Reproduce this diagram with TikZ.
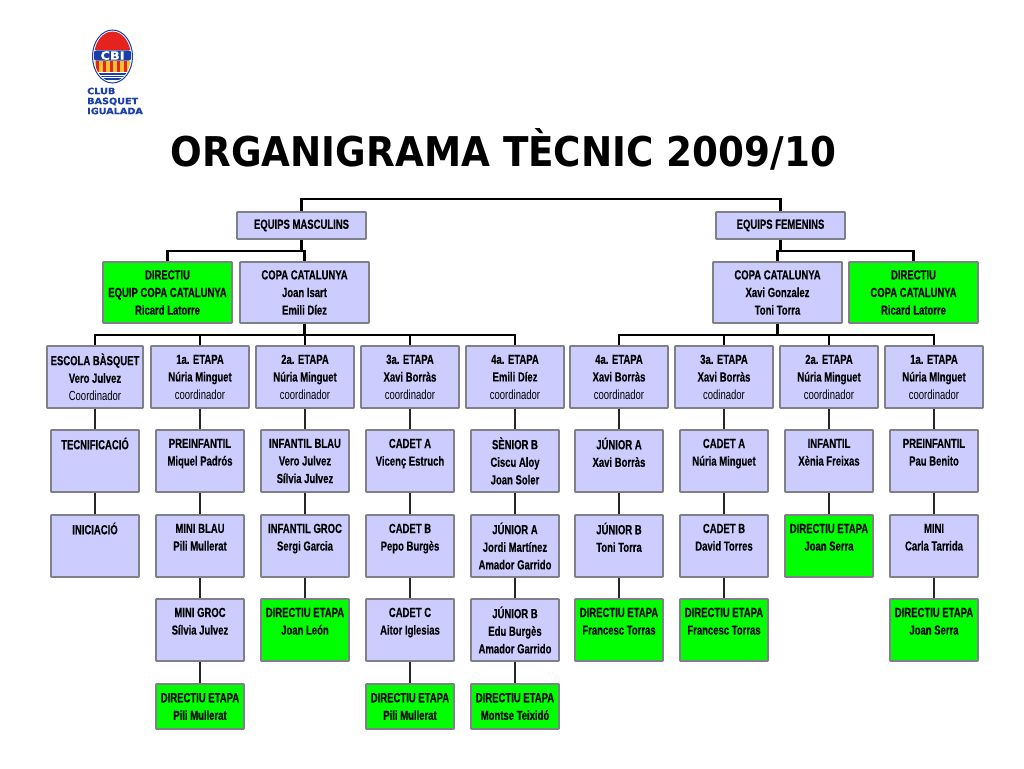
\documentclass[tikz,border=0pt]{standalone}
\usepackage{fontspec}
\setmainfont[FakeStretch=0.72,BoldFeatures={FakeBold=0.25}]{Liberation Sans}
\newfontfamily\titlefont[FakeStretch=0.91]{DejaVu Sans}
\newfontfamily\logofont[FakeStretch=1.11,BoldFeatures={FakeBold=0.6}]{DejaVu Sans}
\usetikzlibrary{calc}
\definecolor{boxblue}{HTML}{CCCCFF}
\definecolor{boxgreen}{HTML}{00FF00}
\definecolor{boxline}{HTML}{808088}
\definecolor{logoblue}{HTML}{1A3FA8}
\definecolor{logored}{HTML}{E4231F}
\definecolor{logoyellow}{HTML}{F2C230}
\tikzset{
  card/.style={draw=boxline,line width=1.6pt,rounded corners=0.6pt,inner sep=0pt,align=center,
    font=\fontsize{13.2}{17.6}\selectfont\bfseries,text=black},
  blue/.style={card,fill=boxblue},
  lime/.style={card,fill=boxgreen},
  wire/.style={draw=black!85,line width=1.7pt},
  bar/.style={draw=black,line width=2.2pt}
}
\newcommand{\card}[7]{\node[#1,minimum width=#5-#3,minimum height=#6-#4] (#2) at ({(#3+#5)/2},{(#4+#6)/2}) {#7};}
\newcommand{\thin}[1]{{\normalfont #1}}
\begin{document}
\begin{tikzpicture}[x=1pt,y=-1pt]
\useasboundingbox (0,0) rectangle (1024,768);
\fill[white] (0,0) rectangle (1024,768);
% logo
\fill[white] (112.5,56.5) ellipse (20 and 26.5);
\begin{scope}
\clip (112.5,56.5) ellipse (18.4 and 25);
\fill[logored] (92,30) rectangle (133,50);
\fill[logoyellow] (92,61) rectangle (133,72);
\foreach \sx in {95.5,102.5,109.5,116.5,123.5} \fill[logored] (\sx,61) rectangle ++(3.8,11);
\foreach \sy in {74,76.5,79} \draw[logoblue,line width=1.1pt] (92,\sy) -- (133,\sy);
\end{scope}
\fill[logoblue,rounded corners=2pt] (94,50.5) rectangle (131,60.5);
\draw[logoblue,line width=1pt] (112.5,56.5) ellipse (20 and 26.5);
\node[inner sep=0pt,text=white,font=\logofont\bfseries\fontsize{11.5}{12}\selectfont] (cbi) at (112.5,55.5) {CBI};
\node[inner sep=0pt,anchor=west,align=left,text=logoblue,font=\logofont\bfseries\fontsize{8.7}{10}\selectfont] (clubname) at (87,101) {CLUB\\BASQUET\\IGUALADA};
% title
\node[inner sep=0pt,anchor=base,font=\titlefont\bfseries\fontsize{41}{44}\selectfont] (title) at (503.5,166) {ORGANIGRAMA TÈCNIC 2009/10};
% header
\coordinate (root) at (540,199);
\card{blue}{em}{237}{212}{366}{239}{EQUIPS MASCULINS}
\card{blue}{ef}{716}{212}{845}{239}{EQUIPS FEMENINS}
\card{lime}{dm}{103}{262}{232}{323}{DIRECTIU\\EQUIP COPA CATALUNYA\\Ricard Latorre}
\card{blue}{cm}{240}{262}{369}{323}{COPA CATALUNYA\\Joan Isart\\Emili Díez}
\card{blue}{cf}{713}{262}{842}{323}{COPA CATALUNYA\\Xavi Gonzalez\\Toni Torra}
\card{lime}{df}{849}{262}{978}{323}{DIRECTIU\\COPA CATALUNYA\\Ricard Latorre}
% row 3
\card{blue}{a0}{47}{346}{143}{408}{ESCOLA BÀSQUET\\Vero Julvez\\\thin{Coordinador}}
\card{blue}{a1}{151}{346}{249}{408}{1a. ETAPA\\Núria Minguet\\\thin{coordinador}}
\card{blue}{a2}{256}{346}{354}{408}{2a. ETAPA\\Núria Minguet\\\thin{coordinador}}
\card{blue}{a3}{361}{346}{459}{408}{3a. ETAPA\\Xavi Borràs\\\thin{coordinador}}
\card{blue}{a4}{466}{346}{564}{408}{4a. ETAPA\\Emili Díez\\\thin{coordinador}}
\card{blue}{a5}{570}{346}{668}{408}{4a. ETAPA\\Xavi Borràs\\\thin{coordinador}}
\card{blue}{a6}{675}{346}{773}{408}{3a. ETAPA\\Xavi Borràs\\\thin{codinador}}
\card{blue}{a7}{780}{346}{878}{408}{2a. ETAPA\\Núria Minguet\\\thin{coordinador}}
\card{blue}{a8}{885}{346}{983}{408}{1a. ETAPA\\Núria MInguet\\\thin{coordinador}}
% row 4
\card{blue}{b0}{51}{430}{139}{492}{TECNIFICACIÓ\\~\\~}
\card{blue}{b1}{156}{430}{244}{492}{PREINFANTIL\\Miquel Padrós\\~}
\card{blue}{b2}{261}{430}{349}{492}{INFANTIL BLAU\\Vero Julvez\\Sílvia Julvez}
\card{blue}{b3}{366}{430}{454}{492}{CADET A\\Vicenç Estruch\\~}
\card{blue}{b4}{471}{430}{559}{492}{SÈNIOR B\\Ciscu Aloy\\Joan Soler}
\card{blue}{b5}{575}{430}{663}{492}{JÚNIOR A\\Xavi Borràs\\~}
\card{blue}{b6}{680}{430}{768}{492}{CADET A\\Núria Minguet\\~}
\card{blue}{b7}{785}{430}{873}{492}{INFANTIL\\Xènia Freixas\\~}
\card{blue}{b8}{890}{430}{978}{492}{PREINFANTIL\\Pau Benito\\~}
% row 5
\card{blue}{c0}{51}{515}{139}{577}{INICIACIÓ\\~\\~}
\card{blue}{c1}{156}{515}{244}{577}{MINI BLAU\\Pili Mullerat\\~}
\card{blue}{c2}{261}{515}{349}{577}{INFANTIL GROC\\Sergi Garcia\\~}
\card{blue}{c3}{366}{515}{454}{577}{CADET B\\Pepo Burgès\\~}
\card{blue}{c4}{471}{515}{559}{577}{JÚNIOR A\\Jordi Martínez\\Amador Garrido}
\card{blue}{c5}{575}{515}{663}{577}{JÚNIOR B\\Toni Torra\\~}
\card{blue}{c6}{680}{515}{768}{577}{CADET B\\David Torres\\~}
\card{lime}{c7}{785}{515}{873}{577}{DIRECTIU ETAPA\\Joan Serra\\~}
\card{blue}{c8}{890}{515}{978}{577}{MINI\\Carla Tarrida\\~}
% row 6
\card{blue}{d1}{156}{599}{244}{661}{MINI GROC\\Sílvia Julvez\\~}
\card{lime}{d2}{261}{599}{349}{661}{DIRECTIU ETAPA\\Joan León\\~}
\card{blue}{d3}{366}{599}{454}{661}{CADET C\\Aitor Iglesias\\~}
\card{blue}{d4}{471}{599}{559}{661}{JÚNIOR B\\Edu Burgès\\Amador Garrido}
\card{lime}{d5}{575}{599}{663}{661}{DIRECTIU ETAPA\\Francesc Torras\\~}
\card{lime}{d6}{680}{599}{768}{661}{DIRECTIU ETAPA\\Francesc Torras\\~}
\card{lime}{d8}{890}{599}{978}{661}{DIRECTIU ETAPA\\Joan Serra\\~}
% row 7
\card{lime}{e1}{156}{684}{244}{729}{DIRECTIU ETAPA\\Pili Mullerat}
\card{lime}{e3}{366}{684}{454}{729}{DIRECTIU ETAPA\\Pili Mullerat}
\card{lime}{e4}{471}{684}{559}{729}{DIRECTIU ETAPA\\Montse Teixidó}
% connectors
\draw[bar] (em.north) |- (root) -| (ef.north);
\draw[bar] (em.south) -- ++(0,11) -| (dm.north);
\draw[bar] (em.south) -- ++(0,11) -| (cm.north);
\draw[bar] (ef.south) -- ++(0,11) -| (cf.north);
\draw[bar] (ef.south) -- ++(0,11) -| (df.north);
\foreach \t in {a0,a1,a2,a3,a4} \draw[bar] (cm.south) -- ++(0,11) -| (\t.north);
\foreach \t in {a5,a6,a7,a8} \draw[bar] (cf.south) -- ++(0,11) -| (\t.north);
\foreach \f/\t in {a0/b0,a1/b1,a2/b2,a3/b3,a4/b4,a5/b5,a6/b6,a7/b7,a8/b8,
  b0/c0,b1/c1,b2/c2,b3/c3,b4/c4,b5/c5,b6/c6,b7/c7,b8/c8,
  c1/d1,c2/d2,c3/d3,c4/d4,c5/d5,c6/d6,c8/d8,
  d1/e1,d3/e3,d4/e4} \draw[wire] (\f.south) -- (\t.north);
\end{tikzpicture}
\end{document}
